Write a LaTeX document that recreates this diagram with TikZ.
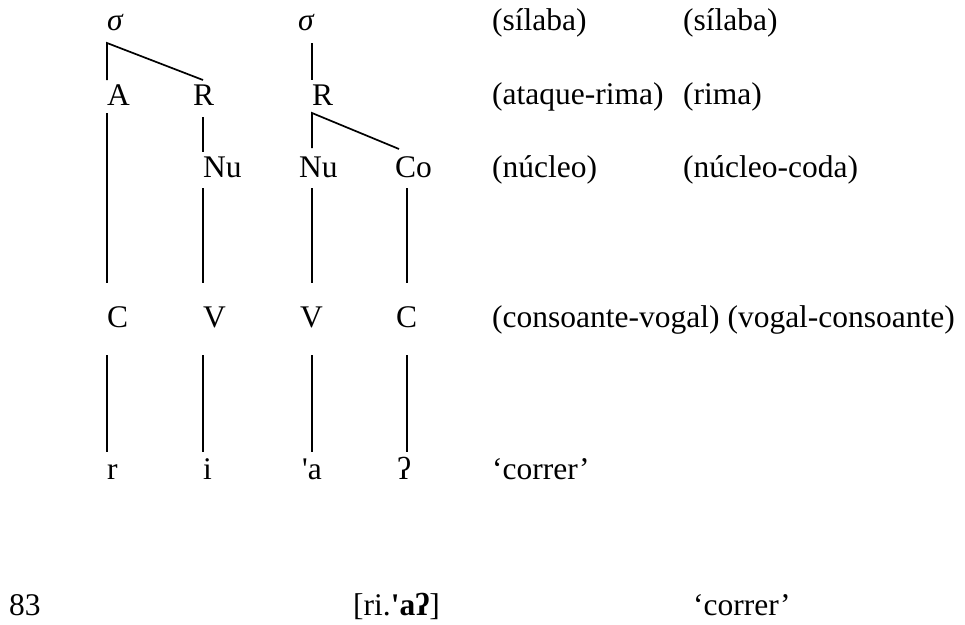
\documentclass[tikz,border=0pt]{standalone}
\usepackage{fontspec}
\setmainfont{Liberation Serif}
\begin{document}
\begin{tikzpicture}[x=1pt,y=-1pt,
  lbl/.style={inner sep=0pt, anchor=base west, font=\fontsize{31.5}{38}\selectfont},
  branch/.style={line width=1.7pt}]
\useasboundingbox (0,0) rectangle (965,624);
% row 1
\node[lbl] (s1) at (107,30) {\textit{σ}};
\node[lbl] (s2) at (298,30) {\textit{σ}};
\node[lbl] (g1a) at (492,30) {(sílaba)};
\node[lbl] (g1b) at (683,30) {(sílaba)};
% row 2
\node[lbl] (A) at (107,105) {A};
\node[lbl] (R1) at (193,105) {R};
\node[lbl] (R2) at (312,105) {R};
\node[lbl] (g2a) at (492,104) {(ataque-rima)};
\node[lbl] (g2b) at (683,104) {(rima)};
% row 3
\node[lbl] (Nu1) at (203,177) {Nu};
\node[lbl] (Nu2) at (299,177) {Nu};
\node[lbl] (Co) at (395,177) {Co};
\node[lbl] (g3a) at (492,177) {(núcleo)};
\node[lbl] (g3b) at (683,177) {(núcleo-coda)};
% row 4
\node[lbl] (C1) at (107,327) {C};
\node[lbl] (V1) at (203,327) {V};
\node[lbl] (V2) at (300,327) {V};
\node[lbl] (C2) at (396,327) {C};
\node[lbl] (g4) at (492,327) {(consoante-vogal) (vogal-consoante)};
% row 5
\node[lbl] (r) at (107,479) {r};
\node[lbl] (i) at (203,479) {i};
\node[lbl] (a) at (302,479) {\textquotesingle a};
\node[lbl] (q) at (397,479) {ʔ};
\node[lbl] (g5) at (492,479) {`correr'};
% row 6
\node[lbl] (num) at (9,615) {83};
\node[lbl] (tr) at (353,615) {[ri.\textbf{\textquotesingle aʔ}]};
\node[lbl] (gl) at (693,615) {`correr'};
% coordinates of branch ends
\coordinate (s1b) at (107,43);
\coordinate (s2b) at (312,43);
\coordinate (At) at (107,80);
\coordinate (R1t) at (203,80);
\coordinate (R2t) at (312,80);
\coordinate (Ab) at (107,113);
\coordinate (R1b) at (203,117);
\coordinate (R2b) at (312,113);
\coordinate (Nu1t) at (203,152);
\coordinate (Nu2t) at (312,148);
\coordinate (Cot) at (399,149);
\coordinate (Nu1b) at (203,188);
\coordinate (Nu2b) at (312,188);
\coordinate (Cob) at (407,188);
\coordinate (C1t) at (107,283);
\coordinate (V1t) at (203,283);
\coordinate (V2t) at (312,283);
\coordinate (C2t) at (407,283);
\coordinate (C1b) at (107,355);
\coordinate (V1b) at (203,355);
\coordinate (V2b) at (312,355);
\coordinate (C2b) at (407,355);
\coordinate (rt) at (107,452);
\coordinate (it) at (203,452);
\coordinate (at) at (312,452);
\coordinate (qt) at (407,452);
% branches
\draw[branch] (At) -- (s1b) -- (R1t);
\draw[branch] (s2b) -- (R2t);
\draw[branch] (Nu2t) -- (R2b) -- (Cot);
\draw[branch] (R1b) -- (Nu1t);
\draw[branch] (Ab) -- (C1t);
\draw[branch] (Nu1b) -- (V1t);
\draw[branch] (Nu2b) -- (V2t);
\draw[branch] (Cob) -- (C2t);
\draw[branch] (C1b) -- (rt);
\draw[branch] (V1b) -- (it);
\draw[branch] (V2b) -- (at);
\draw[branch] (C2b) -- (qt);
\end{tikzpicture}
\end{document}
